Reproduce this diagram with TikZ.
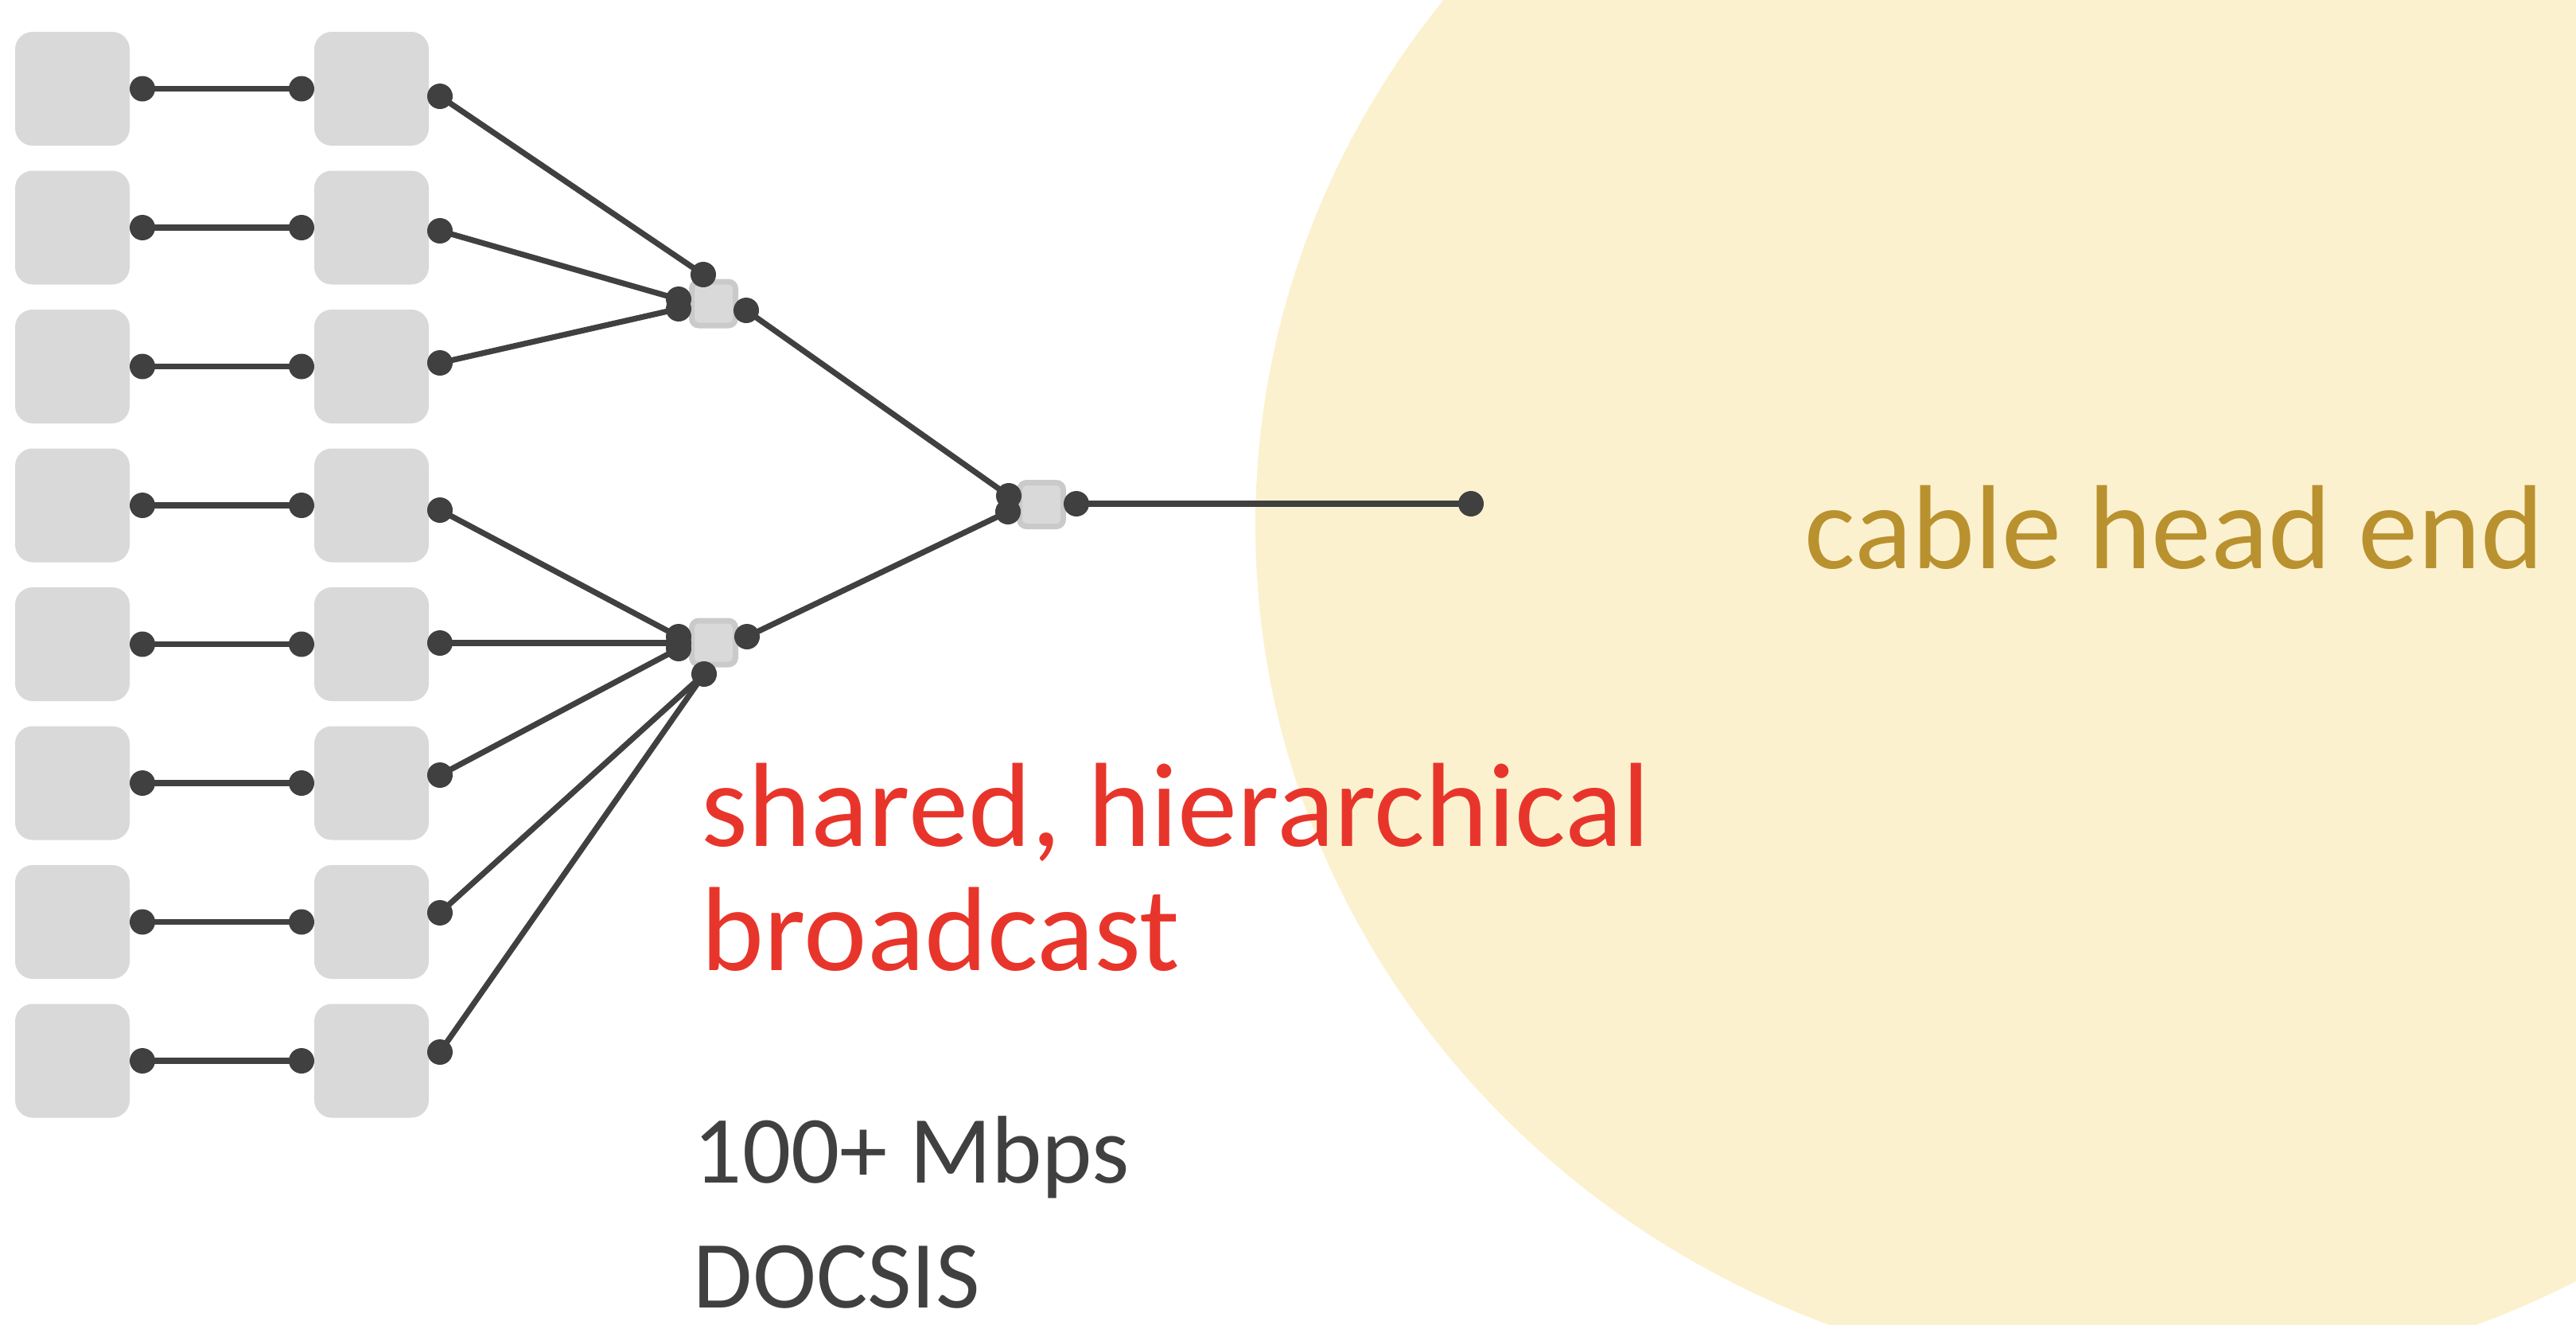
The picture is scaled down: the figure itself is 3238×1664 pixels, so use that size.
\documentclass[tikz,border=0pt]{standalone}
\usepackage{fontspec}
\setmainfont{Carlito}
\definecolor{boxgray}{HTML}{D9D9D9}
\definecolor{splitborder}{HTML}{CACACA}
\definecolor{darkline}{HTML}{404040}
\definecolor{headfill}{HTML}{FCF1CF}
\definecolor{headtext}{HTML}{B9912F}
\definecolor{redtext}{HTML}{E8352B}
\definecolor{graytext}{HTML}{404040}
\begin{document}
\begin{tikzpicture}[x=0.25pt,y=-0.25pt,
  hostbox/.style={fill=boxgray, draw=none, minimum width=36pt, minimum height=35.75pt, rounded corners=5.5pt, inner sep=0pt},
  splitbox/.style={fill=boxgray, draw=splitborder, line width=1.75pt, minimum size=13.75pt, rounded corners=2.2pt, inner sep=0pt},
  portdot/.style={circle, fill=darkline, draw=none, minimum size=8pt, inner sep=0pt},
  link/.style={draw=darkline, line width=1.8pt},
  bigtext/.style={anchor=base west, inner sep=0pt, text depth=0pt, font=\fontsize{37.6pt}{39pt}\selectfont},
  smalltext/.style={anchor=base west, inner sep=0pt, text depth=0pt, font=\fontsize{30.2pt}{39pt}\selectfont, text=graytext}
]
\useasboundingbox (0,0) rectangle (3238,1664);
\begin{scope}
  \clip (0,0) rectangle (3238,1664);
  \fill[headfill] (2706,660) ellipse [x radius=1128, y radius=1077];
\end{scope}

% host boxes and their short links
\foreach \k in {1,...,8}{
  \pgfmathsetmacro{\ry}{111.5+174.5*(\k-1)}
  \node[hostbox] (a\k) at (91,\ry) {};
  \node[hostbox] (b\k) at (467,\ry) {};
  \node[portdot] (p\k) at (179,\ry) {};
  \node[portdot] (q\k) at (379,\ry) {};
  \draw[link] (p\k.center) -- (q\k.center);
}
% right ports of second column
\foreach \k/\py in {1/121, 2/290, 3/456, 4/641, 5/808, 6/974, 7/1147, 8/1322}{
  \node[portdot] (r\k) at (553,\py) {};
}

% splitters
\node[splitbox] (s1) at (897,381.5) {};
\node[splitbox] (s2) at (897,807.5) {};
\node[splitbox] (s3) at (1309,634) {};

\node[portdot] (s1t) at (884,345) {};
\node[portdot] (s1a) at (853,376) {};
\node[portdot] (s1b) at (853,388) {};
\node[portdot] (s1o) at (938,390) {};

\node[portdot] (s2a) at (853,800) {};
\node[portdot] (s2b) at (853,808) {};
\node[portdot] (s2c) at (853,815) {};
\node[portdot] (s2d) at (885,847) {};
\node[portdot] (s2o) at (939,800) {};

\node[portdot] (s3a) at (1268,623) {};
\node[portdot] (s3b) at (1267,643) {};
\node[portdot] (s3o) at (1353,633) {};

\node[portdot] (he) at (1849,633) {};

% links to splitters
\draw[link] (r1.center) -- (s1t.center);
\draw[link] (r2.center) -- (s1a.center);
\draw[link] (r3.center) -- (s1b.center);
\draw[link] (r4.center) -- (s2a.center);
\draw[link] (r5.center) -- (s2b.center);
\draw[link] (r6.center) -- (s2c.center);
\draw[link] (r7.center) -- (s2d.center);
\draw[link] (r8.center) -- (s2d.center);
\draw[link] (s1o.center) -- (s3a.center);
\draw[link] (s2o.center) -- (s3b.center);
\draw[link] (s3o.center) -- (he.center);

% texts
\node[bigtext, text=headtext] (head) at (2268,714) {cable head end};
\node[bigtext, text=redtext] (sh1) at (881,1063) {shared, hierarchical};
\node[bigtext, text=redtext] (sh2) at (881,1219) {broadcast};
\node[smalltext] (sp1) at (871,1486) {100+ Mbps};
\node[smalltext] (sp2) at (871,1643) {DOCSIS};
\end{tikzpicture}
\end{document}
